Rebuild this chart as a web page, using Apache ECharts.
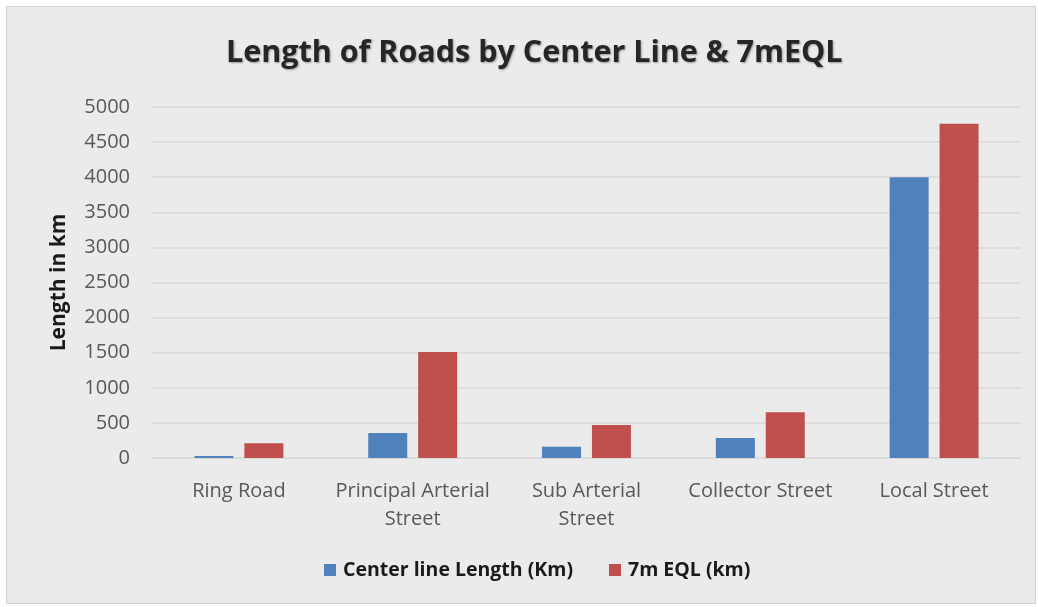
<!DOCTYPE html>
<html>
<head>
<meta charset="utf-8">
<script src="https://cdn.jsdelivr.net/npm/echarts@6/dist/echarts.min.js"></script>
<style>
  html, body { margin: 0; padding: 0; background: #ffffff; }
  #frame {
    position: absolute; left: 6px; top: 6px; width: 1030px; height: 598px;
    border: 1px solid #cfcfcf; box-sizing: border-box; background: #ebebeb;
  }
  #chart { width: 1038px; height: 607px; position: absolute; left: 0; top: 0; }
</style>
</head>
<body>
<div id="frame"></div>
<div id="chart"></div>
<script>
// categories and values
const categories = ['Ring Road', 'Principal Arterial\nStreet', 'Sub Arterial\nStreet', 'Collector Street', 'Local Street']
const centerLine = [30, 355, 160, 285, 4000]
const eql7m = [210, 1510, 470, 650, 4760]
const seriesNames = ['Center line Length (Km)', '7m EQL (km)']

const chart = echarts.init(document.getElementById('chart'))

const option = {
  animation: false,
  title: {
    text: 'Length of Roads by Center Line & 7mEQL',
    left: 221,
    top: 33,
    textStyle: {
      fontFamily: 'Open Sans',
      fontWeight: 'bold',
      fontSize: 30.5,
      color: '#262626',
      textShadowColor: 'rgba(0,0,0,0.35)',
      textShadowBlur: 2,
      textShadowOffsetX: 1,
      textShadowOffsetY: 1
    }
  },
  legend: {
    data: seriesNames,
    bottom: 22,
    left: 319,
    itemWidth: 12,
    itemHeight: 12,
    itemGap: 36,
    icon: 'rect',
    textStyle: {
      fontFamily: 'Open Sans',
      fontWeight: 'bold',
      fontSize: 19.5,
      color: '#1a1a1a',
      padding: [0, 0, 0, 2]
    }
  },
  grid: {
    left: 152,
    right: 17,
    top: 107,
    bottom: 149
  },
  xAxis: {
    type: 'category',
    data: categories,
    axisLine: { show: true, lineStyle: { color: '#d9d9d9' } },
    axisTick: { show: false },
    axisLabel: {
      fontFamily: 'Open Sans',
      fontSize: 20,
      color: '#595959',
      margin: 19,
      lineHeight: 28,
      interval: 0
    }
  },
  yAxis: {
    type: 'value',
    min: 0,
    max: 5000,
    interval: 500,
    name: 'Length in km',
    nameLocation: 'middle',
    nameGap: 82,
    nameRotate: 90,
    nameTextStyle: {
      fontFamily: 'Open Sans',
      fontWeight: 'bold',
      fontSize: 21,
      color: '#1a1a1a'
    },
    axisLine: { show: false },
    axisTick: { show: false },
    axisLabel: {
      fontFamily: 'Open Sans',
      fontSize: 20,
      color: '#595959',
      margin: 22,
      formatter: v => String(v)
    },
    splitLine: { lineStyle: { color: '#d9d9d9', width: 1.5 } }
  },
  series: [
    {
      name: seriesNames[0],
      type: 'bar',
      data: centerLine,
      barWidth: 39,
      barGap: '28%',
      itemStyle: { color: '#4f81bd' }
    },
    {
      name: seriesNames[1],
      type: 'bar',
      data: eql7m,
      barWidth: 39,
      itemStyle: { color: '#c0504d' }
    }
  ]
}

chart.setOption(option)
</script>
</body>
</html>
